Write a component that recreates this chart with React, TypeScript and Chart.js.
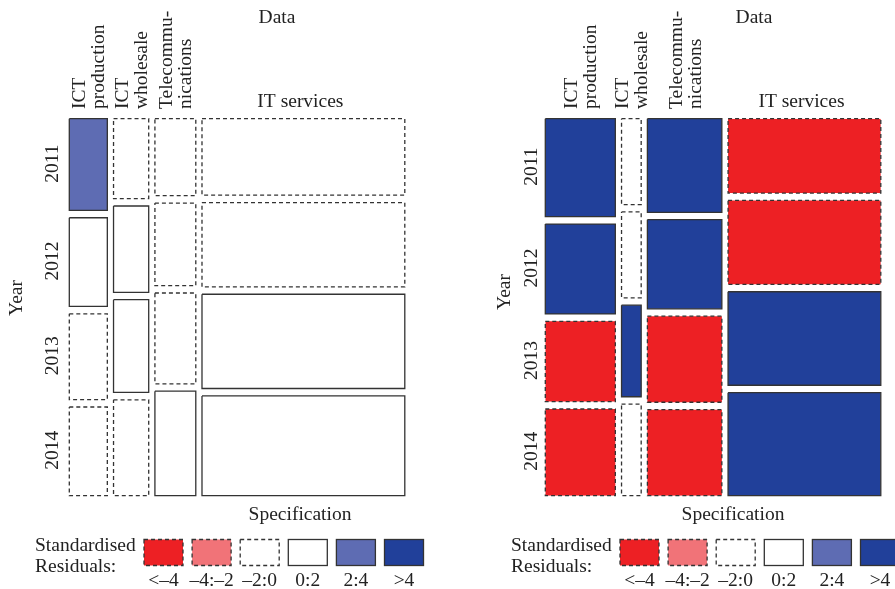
import React, { useEffect, useRef } from 'react';
import { Chart, registerables } from 'chart.js';

Chart.register(...registerables);

// ---- data -------------------------------------------------------------
const years = ['2011', '2012', '2013', '2014'];
const specificationLabels: string[][] = [
  ['ICT', 'production'],
  ['ICT', 'wholesale'],
  ['Telecommu-', 'nications'],
  ['IT services'],
];
const residualLabels = ['<\u20134', '\u20134:\u20132', '\u20132:0', '0:2', '2:4', '>4'];

// Counts per specification column, one entry per year (2011..2014)
const leftIctProduction = [31, 30, 29, 30];
const leftIctWholesale = [25, 27, 29, 30];
const leftTelecommunications = [28, 30, 33, 38];
const leftItServices = [138, 152, 170, 180];

const rightIctProduction = [61, 56, 50, 54];
const rightIctWholesale = [15, 15, 16, 16];
const rightTelecommunications = [62, 59, 57, 57];
const rightItServices = [101, 114, 127, 140];

// Residual class per cell (index into residualLabels), by column then year
const leftClassIctProduction = [4, 3, 2, 2];
const leftClassIctWholesale = [2, 3, 3, 2];
const leftClassTelecommunications = [2, 2, 2, 3];
const leftClassItServices = [2, 2, 3, 3];

const rightClassIctProduction = [5, 5, 0, 0];
const rightClassIctWholesale = [2, 2, 5, 2];
const rightClassTelecommunications = [5, 5, 0, 0];
const rightClassItServices = [0, 0, 5, 5];

// ---- styling ----------------------------------------------------------
const classFill = ['#ED2024', '#F17378', '#FFFFFF', '#FFFFFF', '#5E6CB3', '#21409A'];
const classDashed = [true, true, true, false, false, false];
const BORDER = '#333333';
const DASH = [4, 3];
const FONT = '19.5px "Liberation Serif", "Times New Roman", serif';
const TEXT = '#222222';

const PANEL_W = 476;
const PANEL_H = 589;
const AREA = { left: 69.3, top: 118.7, right: 404.8, bottom: 495.7 };
const GAP_X = 0.0185;
const GAP_Y = 0.0196;

type Cell = { c: number; r: number; x0: number; x1: number; y0: number; y1: number; cls: number };

function mosaicCells(columns: number[][], classes: number[][]): Cell[] {
  const grand = columns.reduce((s, col) => s + col.reduce((a, b) => a + b, 0), 0);
  const contentW = 1 - GAP_X * (columns.length - 1);
  const cells: Cell[] = [];
  let x = 0;
  columns.forEach((col, c) => {
    const colTotal = col.reduce((a, b) => a + b, 0);
    const w = (contentW * colTotal) / grand;
    const contentH = 1 - GAP_Y * (col.length - 1);
    let y = 0;
    col.forEach((v, r) => {
      const h = (contentH * v) / colTotal;
      cells.push({ c, r, x0: x, x1: x + w, y0: y, y1: y + h, cls: classes[c][r] });
      y += h + GAP_Y;
    });
    x += w + GAP_X;
  });
  return cells;
}

type PanelText = {
  dataX: number;
  specX: number;
  yearTitleX: number;
  yearTitleY: number;
  yearTickX: number;
};

function drawRotated(ctx: CanvasRenderingContext2D, text: string, x: number, y: number, align: CanvasTextAlign) {
  ctx.save();
  ctx.translate(x, y);
  ctx.rotate(-Math.PI / 2);
  ctx.textAlign = align;
  ctx.textBaseline = 'alphabetic';
  ctx.fillText(text, 0, 0);
  ctx.restore();
}

function Panel({ columns, classes, text, left }: { columns: number[][]; classes: number[][]; text: PanelText; left: number }) {
  const ref = useRef<HTMLCanvasElement | null>(null);

  useEffect(() => {
    const canvas = ref.current;
    if (!canvas) return;
    const cells = mosaicCells(columns, classes);

    const datasets = cells.map((cell) => ({
      label: `${specificationLabels[cell.c].join(' ')} ${years[cell.r]}`,
      data: [
        { x: cell.x0, y: cell.y0 },
        { x: cell.x1, y: cell.y0 },
        { x: cell.x1, y: cell.y1 },
        { x: cell.x0, y: cell.y1 },
        { x: cell.x0, y: cell.y0 },
      ],
      fill: 'shape',
      backgroundColor: classFill[cell.cls],
      borderColor: BORDER,
      borderWidth: 1.3,
      borderDash: classDashed[cell.cls] ? DASH : [],
      borderJoinStyle: 'miter',
      pointRadius: 0,
      pointHoverRadius: 0,
      tension: 0,
      clip: false,
    }));

    const labelsPlugin = {
      id: 'mosaicLabels',
      afterDraw(chart: any) {
        const { ctx } = chart;
        const xs = chart.scales.x;
        const ys = chart.scales.y;
        ctx.save();
        ctx.fillStyle = TEXT;
        ctx.font = FONT;

        // top variable name
        ctx.textAlign = 'center';
        ctx.textBaseline = 'alphabetic';
        ctx.fillText('Data', text.dataX, 23);

        // column labels
        const topCells = cells.filter((cl) => cl.r === 0);
        topCells.forEach((cl) => {
          const cx = xs.getPixelForValue((cl.x0 + cl.x1) / 2);
          const lines = specificationLabels[cl.c];
          if (lines.length === 1) {
            ctx.textAlign = 'center';
            ctx.fillText(lines[0], cx - 3, 107);
          } else {
            drawRotated(ctx, lines[0], cx - 3, 109, 'left');
            drawRotated(ctx, lines[1], cx + 16, 109, 'left');
          }
        });

        // year labels, centred on the first column's cells
        cells
          .filter((cl) => cl.c === 0)
          .forEach((cl) => {
            const cy = ys.getPixelForValue((cl.y0 + cl.y1) / 2);
            drawRotated(ctx, years[cl.r], text.yearTickX, cy - 1, 'center');
          });
        drawRotated(ctx, 'Year', text.yearTitleX, text.yearTitleY, 'center');

        // bottom variable name
        ctx.textAlign = 'center';
        ctx.fillText('Specification', text.specX, 520);

        // residual legend
        ctx.textAlign = 'left';
        ctx.fillText('Standardised', 35, 551);
        ctx.fillText('Residuals:', 35, 571.5);
        residualLabels.forEach((lab, i) => {
          const bx = 144 + i * 48.1;
          const by = 539.5;
          ctx.fillStyle = classFill[i];
          ctx.fillRect(bx, by, 39, 26);
          ctx.strokeStyle = BORDER;
          ctx.lineWidth = 1.3;
          ctx.setLineDash(classDashed[i] ? DASH : []);
          ctx.strokeRect(bx, by, 39, 26);
          ctx.setLineDash([]);
          ctx.fillStyle = TEXT;
          ctx.textAlign = 'center';
          ctx.fillText(lab, bx + 19.5, 586);
        });
        ctx.restore();
      },
    };

    const chart = new Chart(canvas, {
      type: 'line',
      data: { datasets: datasets as any },
      options: {
        animation: false,
        responsive: false,
        devicePixelRatio: 1,
        layout: {
          padding: {
            left: AREA.left,
            top: AREA.top,
            right: PANEL_W - AREA.right,
            bottom: PANEL_H - AREA.bottom,
          },
        },
        scales: {
          x: { type: 'linear', min: 0, max: 1, display: false },
          y: { type: 'linear', min: 0, max: 1, reverse: true, display: false },
        },
        plugins: {
          legend: { display: false },
          tooltip: { enabled: false },
        },
        events: [],
      },
      plugins: [labelsPlugin],
    });
    return () => chart.destroy();
  }, [columns, classes, text]);

  return (
    <canvas
      ref={ref}
      width={PANEL_W}
      height={PANEL_H}
      style={{ position: 'absolute', left, top: 0, width: PANEL_W, height: PANEL_H }}
    />
  );
}

const leftColumns = [leftIctProduction, leftIctWholesale, leftTelecommunications, leftItServices];
const leftClasses = [leftClassIctProduction, leftClassIctWholesale, leftClassTelecommunications, leftClassItServices];
const rightColumns = [rightIctProduction, rightIctWholesale, rightTelecommunications, rightItServices];
const rightClasses = [rightClassIctProduction, rightClassIctWholesale, rightClassTelecommunications, rightClassItServices];

const leftText: PanelText = { dataX: 277, specX: 300, yearTitleX: 22, yearTitleY: 298, yearTickX: 58 };
const rightText: PanelText = { dataX: 278, specX: 257, yearTitleX: 34, yearTitleY: 292, yearTickX: 61 };

export default function App() {
  return (
    <div
      style={{
        position: 'fixed',
        left: 0,
        top: 0,
        width: 895,
        height: 589,
        overflow: 'hidden',
        background: '#ffffff',
      }}
    >
      <Panel columns={leftColumns} classes={leftClasses} text={leftText} left={0} />
      <Panel columns={rightColumns} classes={rightClasses} text={rightText} left={PANEL_W} />
    </div>
  );
}
